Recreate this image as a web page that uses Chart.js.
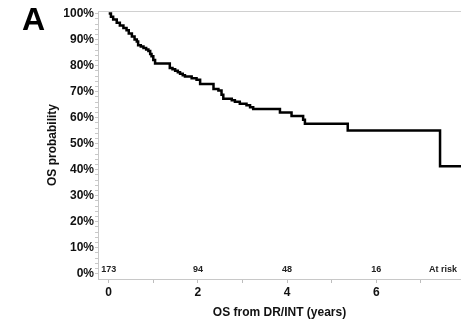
<!DOCTYPE html>
<html>
<head>
<meta charset="utf-8">
<title>OS from DR/INT</title>
<script src="https://cdn.jsdelivr.net/npm/chart.js@4/dist/chart.umd.min.js"></script>
<style>
    html, body { margin: 0; padding: 0; background: #fff; }
    #wrap { position: relative; width: 461px; height: 321px; }
</style>
</head>
<body>
<div id="wrap"><canvas id="km" width="461" height="321"></canvas></div>
<script>
// Kaplan-Meier step points (years, survival)
const osTimes = [0, 0.05, 0.10, 0.18, 0.25, 0.33, 0.40, 0.45, 0.52, 0.58, 0.63, 0.66, 0.72, 0.78,
    0.84, 0.89, 0.93, 0.96, 1.00, 1.04, 1.37, 1.43, 1.49, 1.55, 1.60, 1.66, 1.71, 1.86, 1.97,
    2.05, 2.35, 2.46, 2.53, 2.57, 2.76, 2.83, 2.94, 3.09, 3.17, 3.24, 3.84, 4.10, 4.36, 4.40,
    5.36, 7.43, 8.00];
const osSurvival = [1.000, 0.988, 0.977, 0.965, 0.954, 0.945, 0.936, 0.924, 0.912, 0.900, 0.893,
    0.878, 0.874, 0.868, 0.862, 0.856, 0.845, 0.836, 0.822, 0.808, 0.791, 0.786, 0.780, 0.775,
    0.769, 0.763, 0.758, 0.752, 0.746, 0.729, 0.710, 0.704, 0.688, 0.673, 0.667, 0.661, 0.654,
    0.648, 0.640, 0.633, 0.620, 0.606, 0.592, 0.577, 0.551, 0.413, 0.413];

const atRiskTimes = [0, 2, 4, 6];
const atRiskCounts = [173, 94, 48, 16];

const xTickValues = [0, 1, 2, 3, 4, 5, 6, 7];
const xTickLabels = ['0', '', '2', '', '4', '', '6', ''];
const yTickValues = [];
for (let i = 0; i <= 50; i += 1) yTickValues.push(i / 50);

const FONT = 'Arial, "Liberation Sans", sans-serif';

const extrasPlugin = {
    id: 'extras',
    afterDraw(chart) {
        const { ctx, chartArea, scales } = chart;
        ctx.save();
        // top border of plot area
        ctx.strokeStyle = '#d0d0d0';
        ctx.lineWidth = 1;
        ctx.beginPath();
        ctx.moveTo(chartArea.left, chartArea.top + 0.5);
        ctx.lineTo(chartArea.right, chartArea.top + 0.5);
        ctx.stroke();

        // numbers at risk
        ctx.fillStyle = '#222';
        ctx.font = 'bold 9px ' + FONT;
        ctx.textBaseline = 'middle';
        ctx.textAlign = 'center';
        atRiskTimes.forEach((t, i) => {
            ctx.fillText(String(atRiskCounts[i]), scales.x.getPixelForValue(t), chartArea.bottom - 9);
        });
        ctx.textAlign = 'right';
        ctx.fillText('At risk', chartArea.right - 4, chartArea.bottom - 9);

        // panel letter
        ctx.fillStyle = '#000';
        ctx.font = 'bold 32px ' + FONT;
        ctx.textAlign = 'left';
        ctx.textBaseline = 'alphabetic';
        ctx.fillText('A', 22, 30);
        ctx.restore();
    }
};

new Chart(document.getElementById('km'), {
    type: 'line',
    data: {
        datasets: [{
            data: osTimes.map((t, i) => ({ x: t, y: osSurvival[i] })),
            borderColor: '#000',
            borderWidth: 2.5,
            pointRadius: 0,
            stepped: true,
            fill: false
        }]
    },
    options: {
        responsive: false,
        animation: false,
        layout: { padding: { top: 11, right: 0, left: 0, bottom: 0 } },
        plugins: { legend: { display: false }, tooltip: { enabled: false } },
        scales: {
            x: {
                type: 'linear',
                min: -0.24,
                max: 7.9,
                afterBuildTicks: scale => { scale.ticks = xTickValues.map(v => ({ value: v })); },
                afterFit: scale => { scale.height = 42; },
                ticks: {
                    autoSkip: false,
                    maxRotation: 0,
                    padding: 2,
                    color: '#111',
                    font: { family: FONT, size: 12, weight: 'bold' },
                    callback: (v, i) => xTickLabels[i]
                },
                grid: { drawOnChartArea: false, tickLength: 4, color: '#bdbdbd' },
                border: { color: '#c8c8c8' },
                title: {
                    display: true,
                    text: 'OS from DR/INT (years)',
                    color: '#111',
                    font: { family: FONT, size: 12, weight: 'bold' },
                    padding: { top: 0, bottom: 1 }
                }
            },
            y: {
                min: -0.02,
                max: 1.01,
                afterBuildTicks: scale => { scale.ticks = yTickValues.map(v => ({ value: v })); },
                afterFit: scale => { scale.width = 98; },
                ticks: {
                    autoSkip: false,
                    padding: 1,
                    color: '#111',
                    font: { family: FONT, size: 12, weight: 'bold' },
                    callback: v => {
                        const p = Math.round(v * 100);
                        return p % 10 === 0 ? p + '%' : '';
                    }
                },
                grid: { drawOnChartArea: false, tickLength: 3, color: '#c8c8c8' },
                border: { color: '#c8c8c8' },
                title: {
                    display: true,
                    text: 'OS probability',
                    color: '#111',
                    font: { family: FONT, size: 12, weight: 'bold' },
                    padding: { top: 45, bottom: 0 }
                }
            }
        }
    },
    plugins: [extrasPlugin]
});
</script>
</body>
</html>
